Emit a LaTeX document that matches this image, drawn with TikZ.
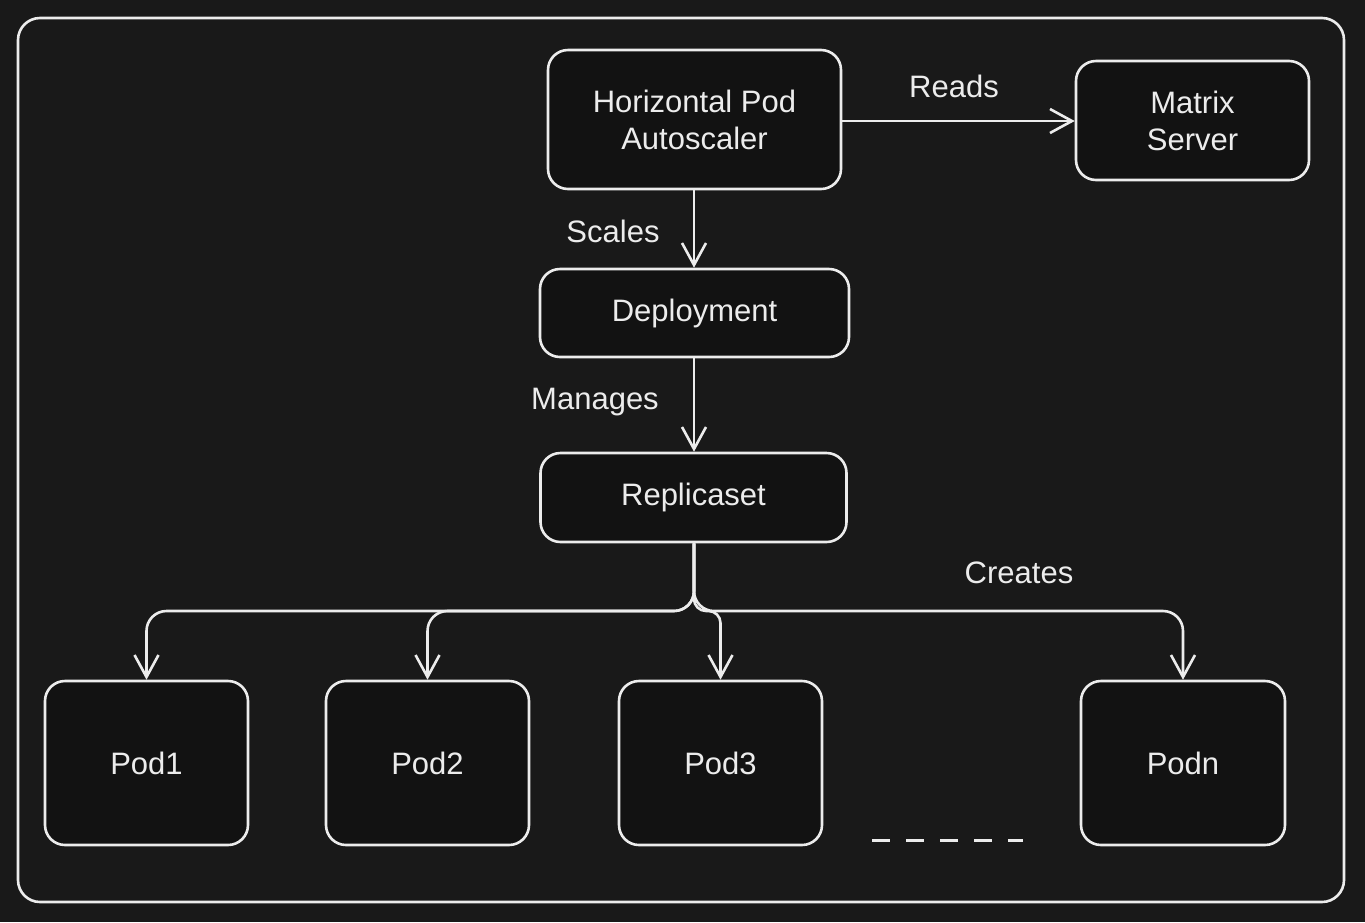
\documentclass[tikz,border=0pt]{standalone}
\usepackage{fontspec}
\setmainfont{Liberation Sans}
\usetikzlibrary{arrows.meta}
\definecolor{bg}{HTML}{191919}
\definecolor{boxbg}{HTML}{121212}
\definecolor{ink}{HTML}{ECECEC}
\tikzset{
  box/.style={draw=ink, fill=boxbg, line width=2.6pt, rounded corners=20pt, align=center, text=ink, inner sep=0pt, font=\fontsize{31}{37}\selectfont},
  lbl/.style={text=ink, inner sep=0pt, font=\fontsize{31}{37}\selectfont},
  conn/.style={draw=ink, line width=2.6pt, -{Straight Barb[length=22pt,width=24pt,line width=2.6pt]}},
}
\begin{document}
\begin{tikzpicture}[x=1pt,y=-1pt]
\fill[bg] (0,0) rectangle (1365,922);
\useasboundingbox (0,0) rectangle (1365,922);
\draw[ink, line width=2.6pt, rounded corners=22pt] (18,18) rectangle (1344,902);

\node[box, minimum width=293pt, minimum height=139pt] (hpa) at (694.5,119.5) {Horizontal Pod\\Autoscaler};
\node[box, minimum width=233pt, minimum height=119pt] (ms) at (1192.5,120.5) {Matrix\\Server};
\node[box, minimum width=309pt, minimum height=88pt] (dep) at (694.5,313) {Deployment};
\node[box, minimum width=306pt, minimum height=89pt] (rs) at (693.5,497.5) {Replicaset};
\node[box, minimum width=203pt, minimum height=164pt] (p1) at (146.5,763) {Pod1};
\node[box, minimum width=203pt, minimum height=164pt] (p2) at (427.5,763) {Pod2};
\node[box, minimum width=203pt, minimum height=164pt] (p3) at (720.5,763) {Pod3};
\node[box, minimum width=204pt, minimum height=164pt] (pn) at (1183,763) {Podn};

\draw[conn] (hpa.east |- 0,121) -- (ms.west |- 0,121);
\draw[conn] (hpa.south -| 694,0) -- (dep.north -| 694,0);
\draw[conn] (dep.south -| 694,0) -- (rs.north -| 694,0);
\coordinate (jn) at (694,611);
\draw[conn, rounded corners=20pt] (rs.south -| jn) -- (jn) -| (p1.north);
\draw[conn, rounded corners=20pt] (rs.south -| jn) -- (jn) -| (p2.north);
\draw[conn, rounded corners=12pt] (rs.south -| jn) -- (jn) -| (p3.north);
\draw[conn, rounded corners=20pt] (rs.south -| jn) -- (jn) -| (pn.north);

\node[lbl] (lr) at (954,86) {Reads};
\node[lbl] (ls) at (613,231) {Scales};
\node[lbl] (lm) at (595,402) {Manages};
\node[lbl] (lc) at (1019,573) {Creates};

\draw[ink, line width=3pt, dash pattern=on 18pt off 16pt] (872,840) -- (1023,840);
\end{tikzpicture}
\end{document}
